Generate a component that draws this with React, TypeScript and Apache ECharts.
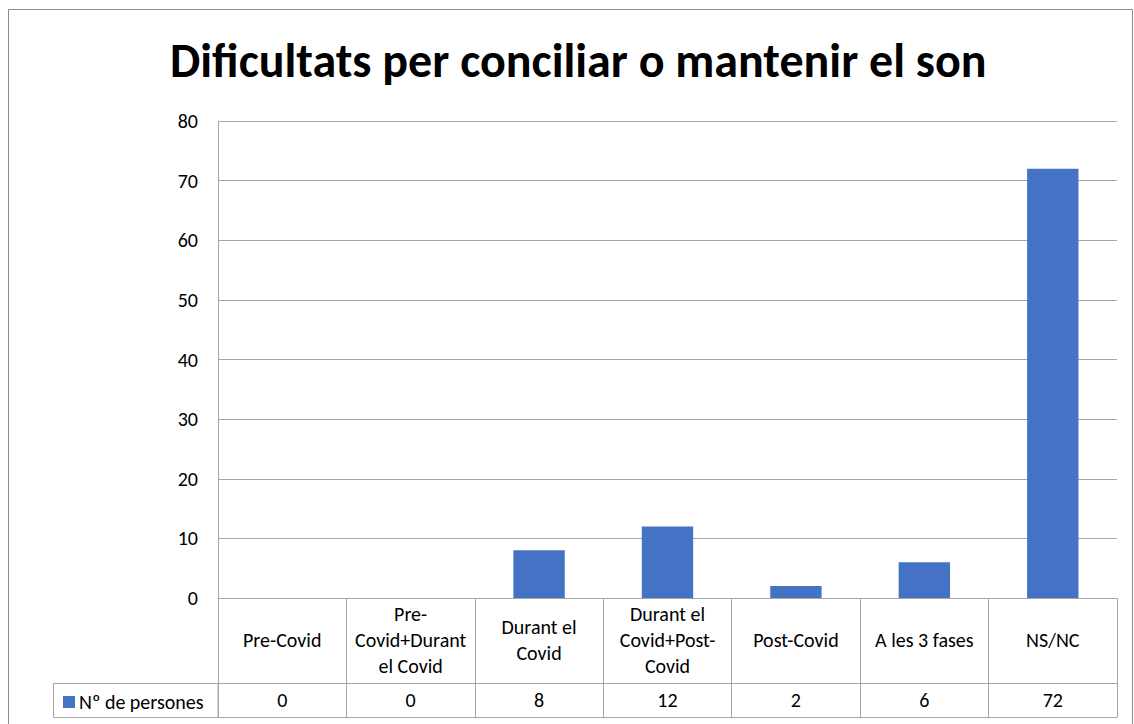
import React, { useEffect, useRef } from "react";
import * as echarts from "echarts";

const TITLE = "Dificultats per conciliar o mantenir el son";
const SERIES_NAME = "Nº de persones";
const categories = [
  "Pre-Covid",
  "Pre-\nCovid+Durant\nel Covid",
  "Durant el\nCovid",
  "Durant el\nCovid+Post-\nCovid",
  "Post-Covid",
  "A les 3 fases",
  "NS/NC",
];
const values = [0, 0, 8, 12, 2, 6, 72];

const FONT = "Carlito, 'Open Sans', sans-serif";
const GRID = "#a6a6a6";
const FS = 20;

export default function App() {
  const ref = useRef<HTMLDivElement>(null);
  useEffect(() => {
    const chart = echarts.init(ref.current!, null, { renderer: "svg" });
    chart.setOption({
      animation: false,
      textStyle: { fontFamily: FONT },
      title: {
        text: TITLE,
        left: 165,
        top: 31,
        textStyle: { fontSize: 48, fontWeight: "bold", color: "#000", fontFamily: FONT },
      },
      legend: {
        data: [SERIES_NAME],
        left: 58,
        top: 687,
        icon: "rect",
        itemWidth: 12,
        itemHeight: 12,
        itemGap: 4,
        textStyle: { fontSize: FS, color: "#000", padding: [0, 0, 0, -1] },
      },
      grid: { left: 218, right: 17, top: 121, bottom: 126, containLabel: false },
      xAxis: [
        {
          type: "category",
          data: categories,
          position: "bottom",
          axisLine: { show: true, lineStyle: { color: GRID } },
          axisTick: { show: true, interval: 0, length: 119, lineStyle: { color: GRID } },
          axisLabel: {
            interval: 0,
            margin: 42,
            verticalAlign: "middle",
            fontSize: FS,
            lineHeight: 26,
            color: "#000",
          },
        },
        {
          type: "category",
          data: values.map((v) => String(v)),
          position: "bottom",
          offset: 85,
          axisLine: { show: true, lineStyle: { color: GRID } },
          axisTick: { show: false },
          axisLabel: { interval: 0, margin: 17, verticalAlign: "middle", fontSize: FS, color: "#000" },
        },
        {
          type: "category",
          data: values.map((v) => String(v)),
          position: "bottom",
          offset: 119,
          axisLine: { show: true, lineStyle: { color: GRID } },
          axisTick: { show: false },
          axisLabel: { show: false },
        },
      ],
      yAxis: {
        type: "value",
        min: 0,
        max: 80,
        interval: 10,
        axisLine: { show: true, lineStyle: { color: GRID } },
        axisTick: { show: false },
        axisLabel: { margin: 20, fontSize: FS, color: "#000" },
        splitLine: { lineStyle: { color: GRID } },
      },
      series: [
        {
          name: SERIES_NAME,
          type: "bar",
          data: values,
          barWidth: "40%",
          itemStyle: { color: "#4472c4" },
        },
      ],
      graphic: [
        {
          type: "rect",
          shape: { x: 8.5, y: 9.5, width: 1124, height: 730 },
          style: { fill: "none", stroke: "#8c8c8c", lineWidth: 1 },
          silent: true,
        },
        {
          type: "rect",
          shape: { x: 53.5, y: 683.5, width: 164.5, height: 34 },
          style: { fill: "none", stroke: GRID, lineWidth: 1 },
          silent: true,
        },
      ],
    });
    return () => chart.dispose();
  }, []);
  return (
    <div
      ref={ref}
      style={{ position: "absolute", left: 0, top: 0, width: 1134, height: 724, background: "#fff" }}
    />
  );
}
